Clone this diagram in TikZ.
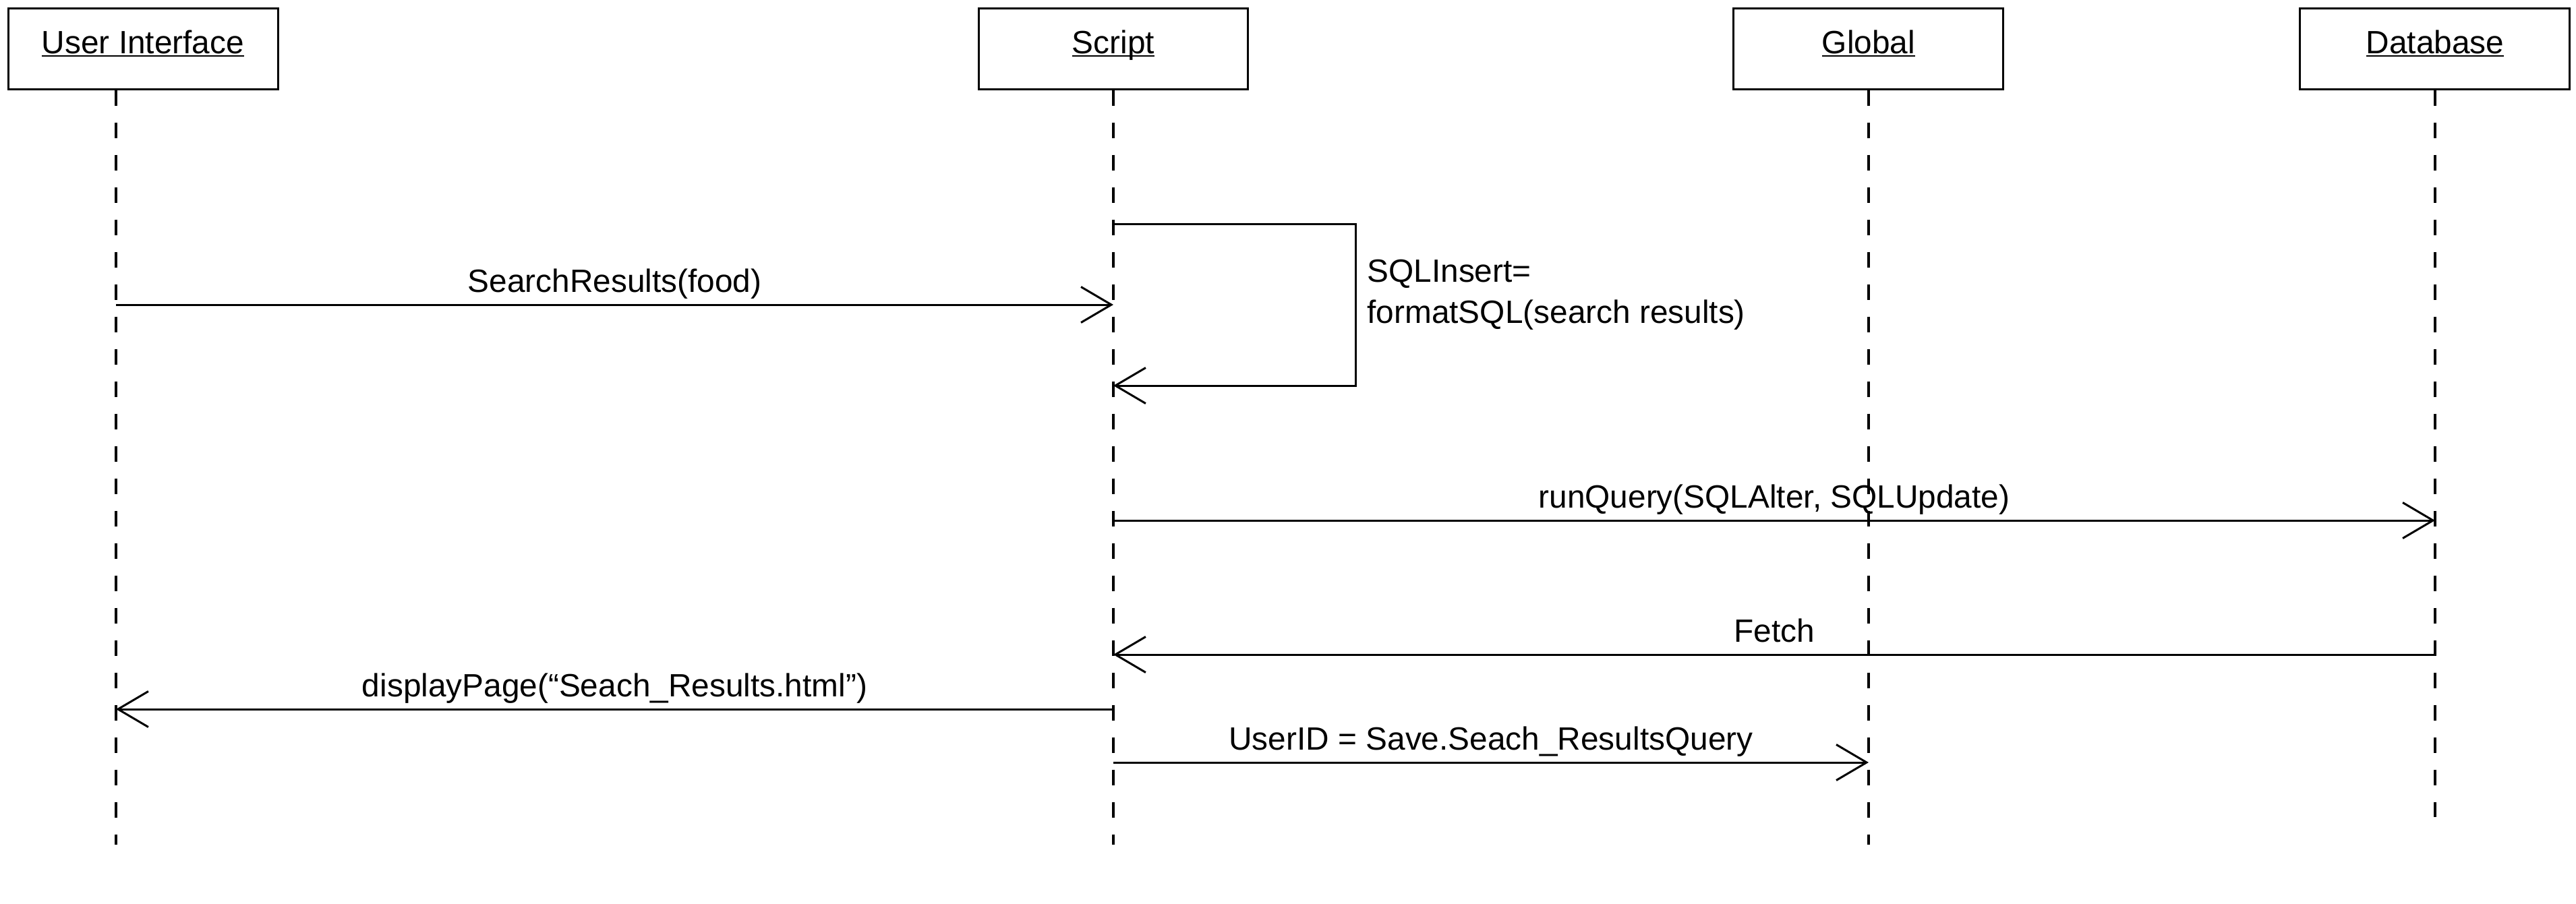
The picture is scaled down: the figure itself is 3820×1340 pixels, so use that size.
\documentclass[tikz,border=0pt]{standalone}
\usepackage{fontspec}
\setmainfont{Liberation Sans}
\usetikzlibrary{positioning, arrows.meta}

\newcommand{\ulname}[1]{\vtop{\hbox{\smash{#1}}\kern0.25mm\hrule height 0.28mm}}

\begin{document}
\begin{tikzpicture}[x=0.1mm, y=-0.1mm, line width=0.3mm,
    actor/.style={draw, minimum width=40mm, minimum height=12mm, inner sep=0pt, text height=3.4mm, text depth=2mm},
    life/.style={line width=0.34mm, dash pattern=on 2.3mm off 2.5mm},
    msg/.style={-{Straight Barb[length=4.5mm, width=5.3mm]}},
    lbl/.style={midway, anchor=base, yshift=1.9mm}]
    \fontsize{13.6}{17.4}\selectfont
    \useasboundingbox (0,0) rectangle (3820,1340);
    %
    \node [actor] (ui) at (212,72) {\ulname{User Interface}};
    \node [actor, right of=ui, node distance=143.9mm] (script) {\ulname{Script}};
    \node [actor, right of=script, node distance=112mm] (global) {\ulname{Global}};
    \node [actor, right of=global, node distance=84mm] (db) {\ulname{Database}};
    %
    \coordinate (ui-top) at ([xshift=-4mm]ui.south);
    \coordinate (ui-end) at ([yshift=-111.9mm]ui-top);
    \coordinate (script-end) at ([yshift=-111.9mm]script.south);
    \coordinate (global-end) at ([yshift=-111.9mm]global.south);
    \coordinate (db-end) at ([yshift=-107.8mm]db.south);
    \draw [life] (ui-top) -- (ui-end);
    \draw [life] (script.south) -- (script-end);
    \draw [life] (global.south) -- (global-end);
    \draw [life] (db.south) -- (db-end);
    %
    \coordinate (ui-1) at (ui-top |- 0,452);
    \coordinate (script-1) at (script.south |- 0,452);
    \coordinate (script-2) at (script.south |- 0,332);
    \coordinate (script-3) at (script.south |- 0,572);
    \coordinate (loop) at (2010,572);
    \coordinate (script-4) at (script.south |- 0,772);
    \coordinate (db-4) at (db.south |- 0,772);
    \coordinate (db-5) at (db.south |- 0,971);
    \coordinate (script-5) at (script.south |- 0,971);
    \coordinate (script-6) at (script.south |- 0,1052);
    \coordinate (ui-6) at (ui-top |- 0,1052);
    \coordinate (script-7) at (script.south |- 0,1131);
    \coordinate (global-7) at (global.south |- 0,1131);
    %
    \draw [msg] (ui-1) -- node[lbl] {SearchResults(food)} (script-1);
    \draw [msg] (script-2) -| (loop) -- (script-3);
    \node [anchor=west, align=left, inner sep=0pt] (sqlinsert) at (2026,437) {SQLInsert=\\formatSQL(search results)};
    \draw [msg] (script-4) -- node[lbl] {runQuery(SQLAlter, SQLUpdate)} (db-4);
    \draw [msg] (db-5) -- node[lbl] {Fetch} (script-5);
    \draw [msg] (script-6) -- node[lbl] {displayPage(“Seach\_Results.html”)} (ui-6);
    \draw [msg] (script-7) -- node[lbl] {UserID = Save.Seach\_ResultsQuery} (global-7);
\end{tikzpicture}
\end{document}
